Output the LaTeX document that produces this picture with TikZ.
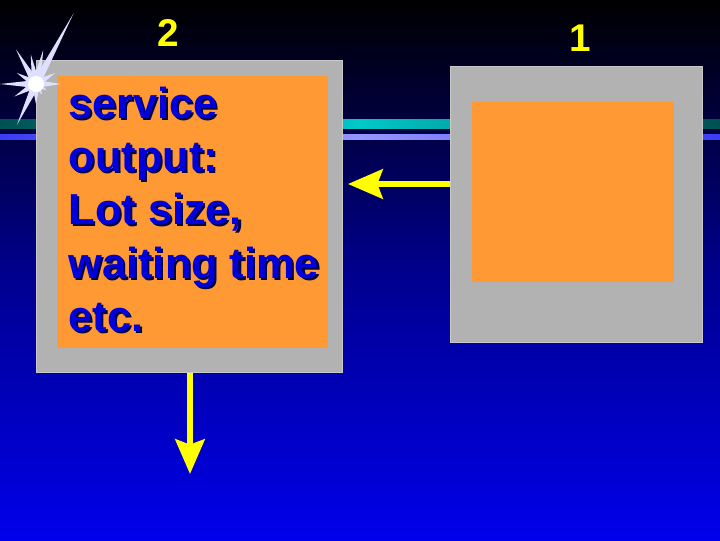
\documentclass[tikz,border=0pt]{standalone}
\usepackage{fontspec}
\setmainfont{Liberation Sans}
\usetikzlibrary{arrows.meta,calc}
\definecolor{bgtop}{RGB}{0,0,0}
\definecolor{bgbot}{RGB}{0,0,235}
\definecolor{grayb}{RGB}{178,178,178}
\definecolor{orng}{RGB}{255,153,51}
\definecolor{yel}{RGB}{255,255,0}
\definecolor{txtb}{RGB}{0,0,220}
\definecolor{cyanb}{RGB}{0,200,200}
\definecolor{lav}{RGB}{150,150,255}
\tikzset{
  outer/.style={fill=grayb,draw=grayb!70!white,line width=0.5pt},
  inner/.style={fill=orng,draw=none},
  yarrow/.style={draw=yel,line width=4.5pt,-{Stealth[width=22pt,length=26pt,inset=4pt]}},
  num/.style={text=yel,font=\bfseries\fontsize{29}{30}\selectfont},
  lbl/.style={text=txtb,font=\bfseries\fontsize{32.5}{40}\selectfont,align=left,anchor=north west}
}
\begin{document}
\begin{tikzpicture}[x=0.75pt,y=-0.75pt]
\useasboundingbox (0,0) rectangle (720,540);
\shade[top color=bgtop,bottom color=bgbot,middle color=bgtop!40!bgbot] (0,0) rectangle (720,540);
% horizontal bars
\shade[left color=bgtop!60!cyanb,right color=cyanb] (0,119) rectangle (360,128);
\shade[left color=cyanb,right color=bgtop!60!cyanb] (360,119) rectangle (720,128);
\shade[left color=bgbot!60!lav,right color=lav] (0,134) rectangle (360,139);
\shade[left color=lav,right color=bgbot!60!lav] (360,134) rectangle (720,139);
% boxes
\node[outer,minimum width=306*0.75pt,minimum height=312*0.75pt,anchor=north west,inner sep=0] (b2) at (36,60) {};
\node[inner,minimum width=271*0.75pt,minimum height=272*0.75pt,anchor=north west,inner sep=0] (o2) at (57,76) {};
\node[outer,minimum width=252*0.75pt,minimum height=276*0.75pt,anchor=north west,inner sep=0] (b1) at (450,66) {};
\node[inner,minimum width=202*0.75pt,minimum height=180*0.75pt,anchor=north west,inner sep=0] (o1) at (472,102) {};
% starburst
\coordinate (st) at (36,84);
\foreach \a/\r in {0/25,30/22,62/80,78/35,100/30,120/40,150/22,180/36,210/25,245/45,270/20,300/12,330/12}{
  \fill[white!70!lav] ($(st)+(-\a+90:4)$) -- ($(st)+(-\a:\r)$) -- ($(st)+(-\a-90:4)$) -- cycle;
}
\fill[white] (st) circle (8);
% labels
\node[num] (n2) at (168,33) {2};
\node[num] (n1) at (580,38) {1};
\node[lbl,text=black!70!txtb] at (66,84) {service\\output:\\Lot size,\\waiting time\\etc.};
\node[lbl] (t2) at (64,82) {service\\output:\\Lot size,\\waiting time\\etc.};
% arrows
\coordinate (a1e) at (348,184);
\draw[yarrow] (b1.west |- 0,184) -- (a1e);
\coordinate (a2e) at (190,474);
\draw[yarrow] (b2.south -| a2e) -- (a2e);
\end{tikzpicture}
\end{document}
